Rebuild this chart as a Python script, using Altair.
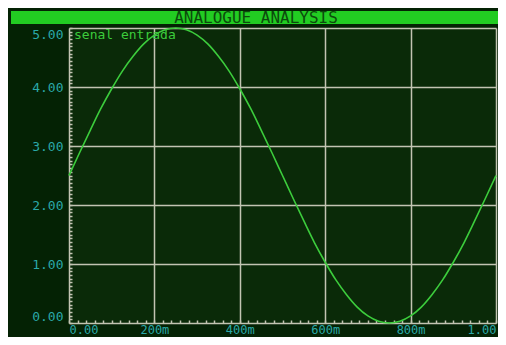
import altair as alt
import pandas as pd

# ---- data ----
t_values = [0.000, 0.025, 0.050, 0.075, 0.100, 0.125, 0.150, 0.175, 0.200, 0.225,
            0.250, 0.275, 0.300, 0.325, 0.350, 0.375, 0.400, 0.425, 0.450, 0.475,
            0.500, 0.525, 0.550, 0.575, 0.600, 0.625, 0.650, 0.675, 0.700, 0.725,
            0.750, 0.775, 0.800, 0.825, 0.850, 0.875, 0.900, 0.925, 0.950, 0.975, 1.000]
v_values = [2.50, 2.89, 3.27, 3.64, 3.97, 4.27, 4.52, 4.73, 4.88, 4.97,
            5.00, 4.97, 4.88, 4.73, 4.52, 4.27, 3.97, 3.64, 3.27, 2.89,
            2.50, 2.11, 1.73, 1.36, 1.03, 0.73, 0.48, 0.27, 0.12, 0.03,
            0.00, 0.03, 0.12, 0.27, 0.48, 0.73, 1.03, 1.36, 1.73, 2.11, 2.50]
series_name = "senal entrada"
chart_title = "ANALOGUE ANALYSIS"

x_major = [0.0, 0.2, 0.4, 0.6, 0.8, 1.0]
x_labels = ["0.00", "200m", "400m", "600m", "800m", "1.00"]
y_major = [0, 1, 2, 3, 4, 5]
y_labels = ["0.00", "1.00", "2.00", "3.00", "4.00", "5.00"]
x_minor_step = 0.02
y_minor_step = 0.0625

x_ticks = [round(i * x_minor_step, 4) for i in range(int(round(1 / x_minor_step)) + 1)]
y_ticks = [round(i * y_minor_step, 4) for i in range(int(round(5 / y_minor_step)) + 1)]

df = pd.DataFrame({"t": t_values, "v": v_values, "s": series_name})

def label_expr(majors, labels):
    expr = "''"
    for m, l in zip(reversed(majors), reversed(labels)):
        expr = f"abs(datum.value - {m}) < 1e-6 ? '{l}' : ({expr})"
    return expr

def major_test(majors):
    return " || ".join(f"abs(datum.value - {m}) < 1e-6" for m in majors)

MONO = "DejaVu Sans Mono"
LABEL_COLOR = "#2aa8a8"
GRID_COLOR = "#c2c4b2"
CURVE_COLOR = "#3ccc3c"
BAND_COLOR = "#22cc22"

W, H = 427, 295

x_axis = alt.Axis(
    values=x_ticks, labelExpr=label_expr(x_major, x_labels),
    labelFont=MONO, labelFontSize=12, labelColor=LABEL_COLOR,
    labelFlush=True, labelOverlap=False, labelPadding=1,
    domain=False, offset=-3, tickSize=3, tickColor=GRID_COLOR, tickWidth=1.5,
    grid=True, gridColor=GRID_COLOR, gridWidth=1.5,
    gridOpacity={"condition": {"test": major_test(x_major), "value": 1}, "value": 0},
    title=None,
)
y_axis = alt.Axis(
    values=y_ticks, labelExpr=label_expr(y_major, y_labels),
    labelFont=MONO, labelFontSize=13, labelColor=LABEL_COLOR,
    labelFlush=True, labelOverlap=False, labelPadding=6,
    domain=False, offset=-3, tickSize=3, tickColor=GRID_COLOR, tickWidth=1.5,
    grid=True, gridColor=GRID_COLOR, gridWidth=1.5,
    gridOpacity={"condition": {"test": major_test(y_major), "value": 1}, "value": 0},
    title=None,
)

line = alt.Chart(df).mark_line(color=CURVE_COLOR, strokeWidth=1.6, interpolate="monotone").encode(
    x=alt.X("t:Q", scale=alt.Scale(domain=[0, 1], nice=False, zero=False), axis=x_axis),
    y=alt.Y("v:Q", scale=alt.Scale(domain=[0, 5], nice=False), axis=y_axis),
)

band = alt.Chart(alt.Data(values=[{}])).mark_rect(color=BAND_COLOR).encode(
    x=alt.value(-58), x2=alt.value(W + 2), y=alt.value(-17), y2=alt.value(-4)
)

title_text = alt.Chart(alt.Data(values=[{"txt": chart_title}])).mark_text(
    font=MONO, fontSize=16, color="#0c4a0c", align="center", baseline="middle"
).encode(x=alt.value(187), y=alt.value(-10), text="txt:N")

legend_text = alt.Chart(alt.Data(values=[{"txt": series_name}])).mark_text(
    font=MONO, fontSize=13, color=CURVE_COLOR, align="left", baseline="middle"
).encode(x=alt.value(5), y=alt.value(7), text="txt:N")

chart = alt.layer(band, line, title_text, legend_text).properties(
    width=W, height=H,
    autosize=alt.AutoSizeParams(type="none"),
    padding={"left": 61, "top": 20, "right": 2, "bottom": 14},
    background="#042204",
).configure_view(fill="#0a2a08", stroke="transparent")

chart.save("out.html", embed_options={"renderer": "svg", "actions": False})
